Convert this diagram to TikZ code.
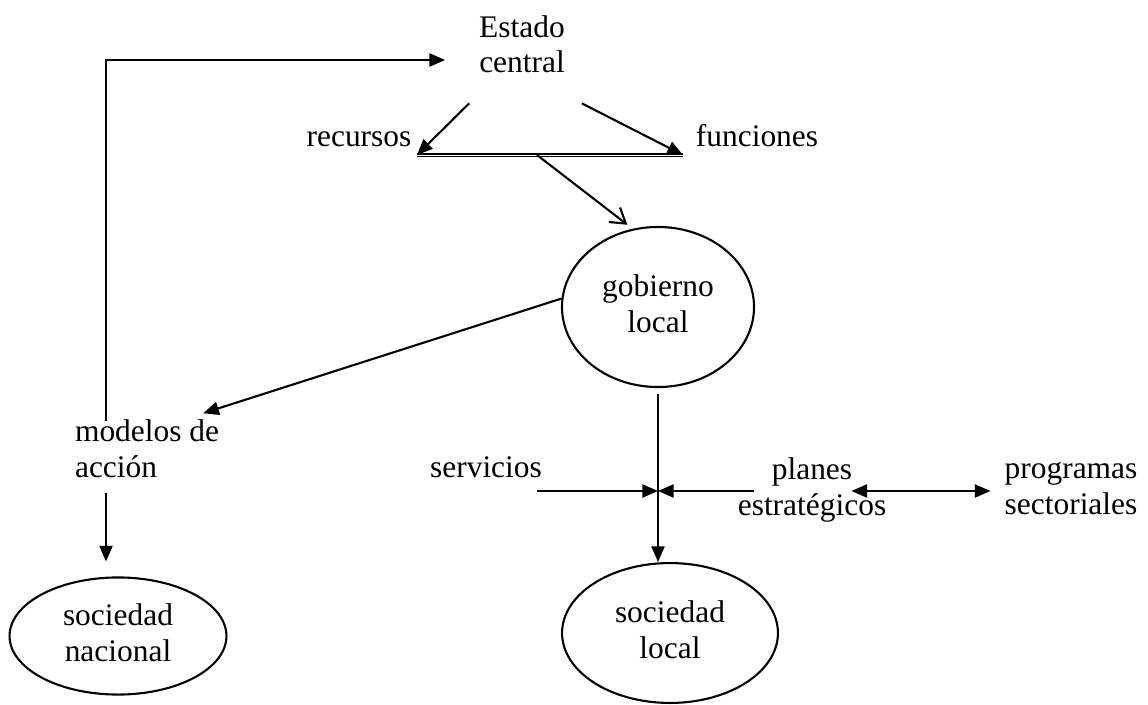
\documentclass[tikz,border=0pt]{standalone}
\usepackage{fontspec}
\setmainfont{Liberation Serif}
\usetikzlibrary{arrows.meta,shapes.geometric}
\tikzset{
  txt/.style={align=center, anchor=base, inner sep=0pt, font=\fontsize{12}{13.7}\selectfont},
  oval/.style={draw, ellipse, inner sep=0pt, align=center, font=\fontsize{12}{13.7}\selectfont},
}
\begin{document}
\begin{tikzpicture}[x=0.3817pt, y=-0.3817pt, line width=0.8pt, >={Triangle[length=6pt,width=5pt]}]
\useasboundingbox (0,0) rectangle (1148,705);

\node (estado)[txt] at (522,73) {Estado\\central};
\node (recursos)[txt] at (359,147) {recursos};
\node (funciones)[txt] at (757,147) {funciones};
\node (gob)[oval, minimum width=73.3pt, minimum height=61.1pt] at (658,307) {gobierno\\local\vphantom{g}};
\node (modelos)[txt, align=left, anchor=base west] at (74,477) {modelos de\\acción};
\node (servicios)[txt] at (486,477) {servicios};
\node (planes)[txt] at (812,515) {planes\\estratégicos};
\node (programas)[txt] at (1071,514) {programas\\sectoriales};
\node (nacional)[oval, minimum width=82.8pt, minimum height=44.7pt] at (118,636) {sociedad\\nacional\vphantom{g}};
\node (local)[oval, minimum width=82.4pt, minimum height=53.4pt] at (670,633) {sociedad\\local\vphantom{g}};

\coordinate (corner) at (106,60);
\coordinate (barL) at (417,155);
\coordinate (barM) at (537,155);
\coordinate (barR) at (683,155);
\coordinate (junc) at (658,491);

\draw[double, double distance=0.35pt, line width=0.4pt] (barL) -- (barR);
\draw[->] ([shift={(-9,29)}]estado.south west) -- (barL);
\draw[->] ([shift={(16,29)}]estado.south east) -- (barR);
\draw[-{Straight Barb[length=5.5pt,width=7pt]}, shorten >=2.5pt] (barM) -- (gob.108);

\draw[->] (gob.175) -- ([shift={(-17,-5)}]modelos.north east);
\draw[->, shorten <=-1pt, shorten >=12.6pt] (corner |- modelos.north) -- (corner) -- (corner -| estado.west);
\draw[->, shorten <=5.7pt, shorten >=5.7pt] (corner |- modelos.south) -- (corner |- nacional.north);

\draw[->, shorten <=2.3pt] (gob.south) -- (gob.south |- local.north);
\draw[->] ([xshift=-2.3pt]junc -| servicios.east) -- (junc);
\draw[->] ([xshift=6.5pt]junc -| planes.west) -- (junc);
\draw[<->] ([xshift=-13.7pt]junc -| planes.east) -- ([xshift=-5pt]junc -| programas.west);
\end{tikzpicture}
\end{document}
